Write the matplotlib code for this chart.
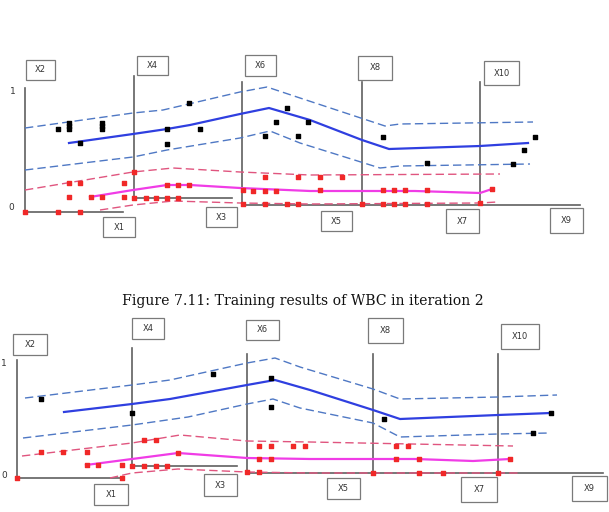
import numpy as np
import matplotlib.pyplot as plt
from matplotlib.patches import Rectangle

# two panels drawn in pixel space of the page (x right, y down)

# ---------------- top panel ----------------
top_axes = [  # x, y_top, y_bottom, horizontal end
    (25, 88, 212, 123),
    (134, 76, 198, 232),
    (242, 82, 205, 480),
    (362, 82, 205, None),
    (480, 82, 205, 580),
]
top_boxes = {"X2": (26, 60, 29, 20), "X4": (137, 56, 31, 19), "X6": (245, 55, 31, 21),
             "X8": (358, 56, 34, 24), "X10": (484, 61, 35, 24), "X1": (103, 217, 32, 20),
             "X3": (206, 207, 31, 20), "X5": (321, 211, 31, 20), "X7": (446, 209, 33, 24),
             "X9": (550, 208, 33, 25)}
top_ticks = [("1", 13, 91), ("0", 11, 208)]

top_blue_x = [69, 133, 167, 190, 240, 269, 310, 362, 389, 480, 528]
top_blue_y = [143, 134, 129, 125, 114, 108, 120, 140, 149, 146, 143]
top_bup_x = [25, 133, 163, 240, 267, 300, 385, 400, 533]
top_bup_y = [128, 113, 110, 92, 87, 98, 126, 124, 122]
top_blo_x = [25, 133, 167, 240, 270, 300, 380, 400, 530]
top_blo_y = [170, 157, 150, 138, 131, 143, 168, 166, 164]
top_pup_x = [25, 133, 173, 240, 310, 500]
top_pup_y = [190, 172, 168, 172, 175, 174]
top_mag_x = [90, 133, 167, 190, 240, 310, 415, 480, 492]
top_mag_y = [197, 190, 185, 185, 188, 191, 191, 193, 189]
top_plo_x = [100, 133, 173, 240, 310, 480, 497]
top_plo_y = [210, 205, 201, 203, 204, 203, 202]

top_black_x = [58, 69, 69, 69, 80, 102, 102, 102, 167, 167, 189, 200, 265, 276, 287,
               298, 308, 383, 427, 513, 524, 535]
top_black_y = [129, 123, 126, 129, 143, 123, 126, 129, 129, 144, 103, 129, 136, 122, 108,
               136, 122, 137, 163, 164, 150, 137]
top_red_x = [25, 58, 80, 69, 80, 69, 91, 102, 124, 124, 134, 134, 146, 156, 167, 178,
             167, 178, 189, 243, 253, 265, 276, 265, 298, 243, 265, 287, 298, 320, 342,
             320, 362, 383, 394, 405, 427, 383, 394, 405, 427, 480, 492]
top_red_y = [212, 212, 212, 183, 183, 197, 197, 197, 183, 197, 172, 198, 198, 198, 198,
             198, 185, 185, 185, 190, 191, 191, 191, 177, 177, 204, 204, 204, 204, 177,
             177, 190, 204, 190, 190, 190, 190, 204, 204, 204, 204, 203, 189]

# ---------------- bottom panel ----------------
bot_axes = [
    (17, 360, 478, 122),
    (132, 348, 466, 237),
    (247, 354, 473, 603),
    (373, 354, 473, None),
    (498, 354, 473, None),
]
bot_boxes = {"X2": (13, 334, 34, 21), "X4": (132, 318, 32, 21), "X6": (246, 320, 33, 20),
             "X8": (368, 318, 35, 25), "X10": (501, 324, 38, 25), "X1": (94, 484, 34, 21),
             "X3": (204, 474, 33, 22), "X5": (327, 478, 33, 21), "X7": (461, 477, 36, 25),
             "X9": (572, 476, 35, 25)}
bot_ticks = [("1", 4, 364), ("0", 4, 476)]

bot_blue_x = [64, 132, 170, 247, 275, 310, 373, 400, 498, 551]
bot_blue_y = [412, 404, 399, 385, 380, 390, 410, 419, 415, 413]
bot_bup_x = [25, 132, 170, 247, 275, 300, 373, 400, 498, 557]
bot_bup_y = [398, 385, 380, 363, 358, 367, 389, 399, 397, 395]
bot_blo_x = [23, 132, 188, 247, 273, 300, 373, 400, 498, 550]
bot_blo_y = [438, 425, 417, 404, 399, 408, 423, 437, 434, 433]
bot_pup_x = [22, 132, 180, 247, 310, 513]
bot_pup_y = [456, 443, 435, 441, 442, 446]
bot_mag_x = [86, 132, 178, 247, 310, 415, 473, 510]
bot_mag_y = [465, 459, 453, 458, 459, 459, 461, 459]
bot_plo_x = [110, 132, 178, 247, 310, 520]
bot_plo_y = [478, 473, 469, 472, 473, 473]

bot_black_x = [41, 132, 213, 271, 271, 384, 533, 551]
bot_black_y = [399, 413, 374, 378, 407, 419, 433, 413]
bot_red_x = [17, 122, 41, 63, 87, 87, 98, 122, 132, 144, 156, 167, 144, 156, 178, 247,
             259, 259, 271, 259, 271, 293, 305, 396, 408, 396, 419, 373, 419, 443, 498, 510]
bot_red_y = [478, 478, 452, 452, 452, 465, 465, 465, 466, 466, 466, 466, 440, 440, 453,
             472, 472, 459, 459, 446, 446, 446, 446, 446, 446, 459, 459, 473, 473, 473,
             473, 459]

caption = "Figure 7.11: Training results of WBC in iteration 2"

fig = plt.figure(figsize=(6.09, 5.12), dpi=100)
ax = fig.add_axes([0, 0, 1, 1])
ax.set_xlim(0, 609)
ax.set_ylim(512, 0)
ax.axis("off")

BLUE = "#2f3fe0"
BLUE_D = "#4f78c4"
PINK_D = "#e0557f"
MAG = "#f03ce6"
RED = "#f02828"
GREY = "#606060"


def draw_panel(axes_list, boxes, ticks, lines, black, red):
    for x, yt, yb, hend in axes_list:
        ax.plot([x, x], [yt, yb], color=GREY, lw=1.2, zorder=1)
        if hend is not None:
            ax.plot([x, hend], [yb, yb], color=GREY, lw=1.2, zorder=1)
    for name, (bx, by, bw, bh) in boxes.items():
        ax.add_patch(Rectangle((bx + 1, by + 1), bw, bh, facecolor="#d8d8d8",
                               edgecolor="none", zorder=2))
        ax.add_patch(Rectangle((bx, by), bw, bh, facecolor="white",
                               edgecolor="#7a7a7a", lw=0.9, zorder=3))
        ax.text(bx + bw / 2, by + bh / 2, name, ha="center", va="center",
                fontsize=6, color="#333333", zorder=4)
    for t, tx, ty in ticks:
        ax.text(tx, ty, t, ha="center", va="center", fontsize=6.5, color="#333333")
    (bx_, by_), (ux, uy), (lx, ly), (px, py), (mx, my), (qx, qy) = lines
    ax.plot(ux, uy, color=BLUE_D, lw=1.0, ls=(0, (6, 3)), zorder=5)
    ax.plot(lx, ly, color=BLUE_D, lw=1.0, ls=(0, (6, 3)), zorder=5)
    ax.plot(bx_, by_, color=BLUE, lw=1.6, zorder=6)
    ax.plot(px, py, color=PINK_D, lw=1.0, ls=(0, (6, 3)), zorder=5)
    ax.plot(qx, qy, color=PINK_D, lw=1.0, ls=(0, (6, 3)), zorder=5)
    ax.plot(mx, my, color=MAG, lw=1.6, zorder=6)
    ax.scatter(black[0], black[1], s=7, marker="s", color="black", zorder=7)
    ax.scatter(red[0], red[1], s=6, marker="s", color=RED, zorder=7)


draw_panel(top_axes, top_boxes, top_ticks,
           [(top_blue_x, top_blue_y), (top_bup_x, top_bup_y), (top_blo_x, top_blo_y),
            (top_pup_x, top_pup_y), (top_mag_x, top_mag_y), (top_plo_x, top_plo_y)],
           (top_black_x, top_black_y), (top_red_x, top_red_y))
draw_panel(bot_axes, bot_boxes, bot_ticks,
           [(bot_blue_x, bot_blue_y), (bot_bup_x, bot_bup_y), (bot_blo_x, bot_blo_y),
            (bot_pup_x, bot_pup_y), (bot_mag_x, bot_mag_y), (bot_plo_x, bot_plo_y)],
           (bot_black_x, bot_black_y), (bot_red_x, bot_red_y))

ax.text(303, 305, caption, ha="center", va="baseline", fontsize=10.1,
        family="DejaVu Serif", color="#111111")

fig.savefig("out.png", dpi=100)
